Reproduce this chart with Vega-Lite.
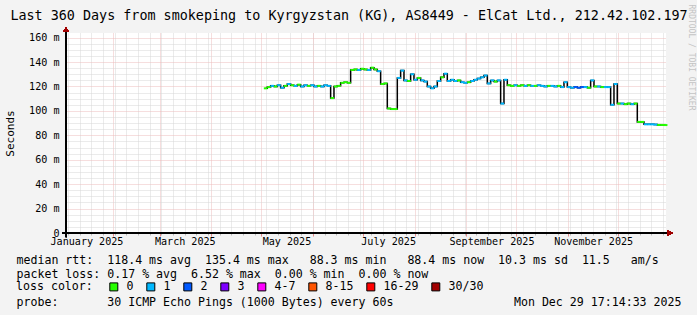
{
  "$schema": "https://vega.github.io/schema/vega-lite/v6.json",
  "width": 600,
  "height": 200,
  "autosize": {"type": "none"},
  "padding": {"left": 66, "top": 33, "right": 31, "bottom": 82},
  "background": "#f3f3f3",
  "config": {"view": {"fill": "white", "stroke": null}, "font": "DejaVu Sans Mono"},
  "data": {"values": [
    {"date": "2025-05-03T12:00", "rtt": 118.5, "loss": "0"},
    {"date": "2025-05-05T12:00", "rtt": 119.5, "loss": "0"},
    {"date": "2025-05-07T12:00", "rtt": 120.5, "loss": "1"},
    {"date": "2025-05-09T12:00", "rtt": 120, "loss": "0"},
    {"date": "2025-05-11T12:00", "rtt": 121, "loss": "1"},
    {"date": "2025-05-13T12:00", "rtt": 119, "loss": "1"},
    {"date": "2025-05-15T12:00", "rtt": 120.5, "loss": "0"},
    {"date": "2025-05-17T12:00", "rtt": 122, "loss": "1"},
    {"date": "2025-05-19T12:00", "rtt": 121, "loss": "0"},
    {"date": "2025-05-21T12:00", "rtt": 120.5, "loss": "1"},
    {"date": "2025-05-23T12:00", "rtt": 121.5, "loss": "0"},
    {"date": "2025-05-25T12:00", "rtt": 120, "loss": "1"},
    {"date": "2025-05-27T12:00", "rtt": 121, "loss": "1"},
    {"date": "2025-05-29T12:00", "rtt": 120.5, "loss": "0"},
    {"date": "2025-05-31T12:00", "rtt": 121, "loss": "1"},
    {"date": "2025-06-02T12:00", "rtt": 120, "loss": "1"},
    {"date": "2025-06-04T12:00", "rtt": 120.5, "loss": "0"},
    {"date": "2025-06-06T12:00", "rtt": 120, "loss": "1"},
    {"date": "2025-06-08T12:00", "rtt": 121, "loss": "1"},
    {"date": "2025-06-10T12:00", "rtt": 120.5, "loss": "1"},
    {"date": "2025-06-12T12:00", "rtt": 110.5, "loss": "0"},
    {"date": "2025-06-14T12:00", "rtt": 120, "loss": "0"},
    {"date": "2025-06-16T12:00", "rtt": 120.5, "loss": "0"},
    {"date": "2025-06-18T12:00", "rtt": 123, "loss": "0"},
    {"date": "2025-06-20T12:00", "rtt": 123.5, "loss": "0"},
    {"date": "2025-06-22T12:00", "rtt": 123, "loss": "0"},
    {"date": "2025-06-24T12:00", "rtt": 133.5, "loss": "0"},
    {"date": "2025-06-26T12:00", "rtt": 134, "loss": "0"},
    {"date": "2025-06-28T12:00", "rtt": 133.5, "loss": "1"},
    {"date": "2025-06-30T12:00", "rtt": 134.5, "loss": "0"},
    {"date": "2025-07-02T12:00", "rtt": 134, "loss": "0"},
    {"date": "2025-07-04T12:00", "rtt": 133.5, "loss": "1"},
    {"date": "2025-07-06T12:00", "rtt": 135.4, "loss": "0"},
    {"date": "2025-07-08T12:00", "rtt": 134, "loss": "0"},
    {"date": "2025-07-10T12:00", "rtt": 132.5, "loss": "1"},
    {"date": "2025-07-12T12:00", "rtt": 122, "loss": "0"},
    {"date": "2025-07-14T12:00", "rtt": 122.5, "loss": "0"},
    {"date": "2025-07-16T12:00", "rtt": 102, "loss": "0"},
    {"date": "2025-07-18T12:00", "rtt": 101.5, "loss": "0"},
    {"date": "2025-07-20T12:00", "rtt": 101.5, "loss": "0"},
    {"date": "2025-07-22T12:00", "rtt": 127, "loss": "1"},
    {"date": "2025-07-24T12:00", "rtt": 133, "loss": "1"},
    {"date": "2025-07-26T12:00", "rtt": 125, "loss": "1"},
    {"date": "2025-07-28T12:00", "rtt": 124.5, "loss": "0"},
    {"date": "2025-07-30T12:00", "rtt": 130, "loss": "1"},
    {"date": "2025-08-01T12:00", "rtt": 125.5, "loss": "1"},
    {"date": "2025-08-03T12:00", "rtt": 127, "loss": "0"},
    {"date": "2025-08-05T12:00", "rtt": 125, "loss": "1"},
    {"date": "2025-08-07T12:00", "rtt": 124, "loss": "1"},
    {"date": "2025-08-09T12:00", "rtt": 120, "loss": "1"},
    {"date": "2025-08-11T12:00", "rtt": 118.5, "loss": "1"},
    {"date": "2025-08-13T12:00", "rtt": 120, "loss": "1"},
    {"date": "2025-08-15T12:00", "rtt": 124.5, "loss": "1"},
    {"date": "2025-08-17T12:00", "rtt": 127.5, "loss": "0"},
    {"date": "2025-08-19T12:00", "rtt": 130.5, "loss": "1"},
    {"date": "2025-08-21T12:00", "rtt": 124.5, "loss": "1"},
    {"date": "2025-08-23T12:00", "rtt": 125.5, "loss": "1"},
    {"date": "2025-08-25T12:00", "rtt": 124.5, "loss": "1"},
    {"date": "2025-08-27T12:00", "rtt": 125, "loss": "0"},
    {"date": "2025-08-29T12:00", "rtt": 123.5, "loss": "1"},
    {"date": "2025-08-31T12:00", "rtt": 123, "loss": "1"},
    {"date": "2025-09-02T12:00", "rtt": 123.5, "loss": "0"},
    {"date": "2025-09-04T12:00", "rtt": 124.5, "loss": "1"},
    {"date": "2025-09-06T12:00", "rtt": 125.5, "loss": "1"},
    {"date": "2025-09-08T12:00", "rtt": 126.5, "loss": "1"},
    {"date": "2025-09-10T12:00", "rtt": 127.5, "loss": "1"},
    {"date": "2025-09-12T12:00", "rtt": 129, "loss": "1"},
    {"date": "2025-09-14T12:00", "rtt": 122.5, "loss": "1"},
    {"date": "2025-09-16T12:00", "rtt": 125, "loss": "1"},
    {"date": "2025-09-18T12:00", "rtt": 124, "loss": "0"},
    {"date": "2025-09-20T12:00", "rtt": 125, "loss": "1"},
    {"date": "2025-09-22T12:00", "rtt": 106, "loss": "1"},
    {"date": "2025-09-24T12:00", "rtt": 125.5, "loss": "1"},
    {"date": "2025-09-26T12:00", "rtt": 121, "loss": "0"},
    {"date": "2025-09-28T12:00", "rtt": 120.5, "loss": "0"},
    {"date": "2025-09-30T12:00", "rtt": 121, "loss": "1"},
    {"date": "2025-10-02T12:00", "rtt": 120.5, "loss": "0"},
    {"date": "2025-10-04T12:00", "rtt": 121, "loss": "0"},
    {"date": "2025-10-06T12:00", "rtt": 120.5, "loss": "1"},
    {"date": "2025-10-08T12:00", "rtt": 121, "loss": "0"},
    {"date": "2025-10-10T12:00", "rtt": 120.5, "loss": "1"},
    {"date": "2025-10-12T12:00", "rtt": 120.5, "loss": "0"},
    {"date": "2025-10-14T12:00", "rtt": 121, "loss": "1"},
    {"date": "2025-10-16T12:00", "rtt": 120.5, "loss": "1"},
    {"date": "2025-10-18T12:00", "rtt": 120, "loss": "1"},
    {"date": "2025-10-20T12:00", "rtt": 120.5, "loss": "0"},
    {"date": "2025-10-22T12:00", "rtt": 120.5, "loss": "1"},
    {"date": "2025-10-24T12:00", "rtt": 120, "loss": "1"},
    {"date": "2025-10-26T12:00", "rtt": 120.5, "loss": "0"},
    {"date": "2025-10-28T12:00", "rtt": 119.5, "loss": "1"},
    {"date": "2025-10-30T12:00", "rtt": 123.5, "loss": "1"},
    {"date": "2025-11-01T12:00", "rtt": 119.5, "loss": "1"},
    {"date": "2025-11-03T12:00", "rtt": 119, "loss": "1"},
    {"date": "2025-11-05T12:00", "rtt": 119.5, "loss": "2"},
    {"date": "2025-11-07T12:00", "rtt": 119, "loss": "2"},
    {"date": "2025-11-09T12:00", "rtt": 119.5, "loss": "2"},
    {"date": "2025-11-11T12:00", "rtt": 119.5, "loss": "1"},
    {"date": "2025-11-13T12:00", "rtt": 119, "loss": "0"},
    {"date": "2025-11-15T12:00", "rtt": 125, "loss": "1"},
    {"date": "2025-11-17T12:00", "rtt": 120, "loss": "0"},
    {"date": "2025-11-19T12:00", "rtt": 120, "loss": "1"},
    {"date": "2025-11-21T12:00", "rtt": 119.5, "loss": "0"},
    {"date": "2025-11-23T12:00", "rtt": 119.5, "loss": "1"},
    {"date": "2025-11-25T12:00", "rtt": 119.5, "loss": "1"},
    {"date": "2025-11-27T12:00", "rtt": 105, "loss": "1"},
    {"date": "2025-11-29T12:00", "rtt": 122, "loss": "1"},
    {"date": "2025-12-01T12:00", "rtt": 106, "loss": "0"},
    {"date": "2025-12-03T12:00", "rtt": 106, "loss": "1"},
    {"date": "2025-12-05T12:00", "rtt": 105.5, "loss": "0"},
    {"date": "2025-12-07T12:00", "rtt": 106, "loss": "0"},
    {"date": "2025-12-09T12:00", "rtt": 105.5, "loss": "1"},
    {"date": "2025-12-11T12:00", "rtt": 106, "loss": "0"},
    {"date": "2025-12-13T12:00", "rtt": 91, "loss": "0"},
    {"date": "2025-12-15T12:00", "rtt": 91, "loss": "0"},
    {"date": "2025-12-17T12:00", "rtt": 89, "loss": "1"},
    {"date": "2025-12-19T12:00", "rtt": 89, "loss": "1"},
    {"date": "2025-12-21T12:00", "rtt": 89, "loss": "1"},
    {"date": "2025-12-23T12:00", "rtt": 88.8, "loss": "1"},
    {"date": "2025-12-25T12:00", "rtt": 88.5, "loss": "0"},
    {"date": "2025-12-27T12:00", "rtt": 88.5, "loss": "0"},
    {"date": "2025-12-29T12:00", "rtt": 88.4, "loss": "0"}
  ]},
  "layer": [
    {
      "mark": {"type": "line", "interpolate": "step", "color": "#000000", "strokeWidth": 1.5},
      "encoding": {
        "x": {"field": "date", "type": "temporal",
          "scale": {"domain": [{"year": 2025, "month": 1, "date": 3, "hours": 17, "minutes": 14, "seconds": 33}, {"year": 2025, "month": 12, "date": 29, "hours": 17, "minutes": 14, "seconds": 33}], "nice": false},
          "axis": {"orient": "bottom", "tickCount": {"interval": "week", "step": 1}, "grid": true, "gridColor": "#d6d6d6", "gridDash": [1, 1], "labels": false, "ticks": true, "tickSize": 2, "tickColor": "#b8b8b8", "domain": false,
            "title": "Mon Dec 29 17:14:33 2025", "titleX": 615, "titleY": 72, "titleAlign": "right", "titleBaseline": "alphabetic", "titleFont": "DejaVu Sans Mono", "titleFontSize": 11.6, "titleFontWeight": "normal", "titleColor": "#000000"}},
        "y": {"field": "rtt", "type": "quantitative",
          "scale": {"domain": [0, 163.8], "nice": false, "zero": false},
          "axis": {"orient": "left", "values": [5, 10, 15, 25, 30, 35, 45, 50, 55, 65, 70, 75, 85, 90, 95, 105, 110, 115, 125, 130, 135, 145, 150, 155], "grid": true, "gridColor": "#d6d6d6", "gridDash": [1, 1], "labels": false, "ticks": false, "domain": false, "title": null}}
      }
    },
    {
      "mark": {"type": "tick", "orient": "horizontal", "size": 3.6, "thickness": 2, "opacity": 1},
      "encoding": {
        "x": {"field": "date", "type": "temporal",
          "scale": {"domain": [{"year": 2025, "month": 1, "date": 3, "hours": 17, "minutes": 14, "seconds": 33}, {"year": 2025, "month": 12, "date": 29, "hours": 17, "minutes": 14, "seconds": 33}], "nice": false},
          "axis": {"orient": "bottom", "tickCount": {"interval": "month", "step": 1}, "grid": true, "gridColor": "#ecbcbc", "gridDash": [1, 1], "labels": false, "ticks": true, "tickSize": 3, "tickColor": "#e08a8a", "domain": false,
            "title": ["median rtt:\u00a0\u00a0118.4\u00a0ms\u00a0avg\u00a0\u00a0135.4\u00a0ms\u00a0max\u00a0\u00a0\u00a088.3\u00a0ms\u00a0min\u00a0\u00a0\u00a088.4\u00a0ms\u00a0now\u00a0\u00a010.3\u00a0ms\u00a0sd\u00a0\u00a011.5\u00a0\u00a0\u00a0am/s", "packet\u00a0loss:\u00a00.17\u00a0%\u00a0avg\u00a0\u00a06.52\u00a0%\u00a0max\u00a0\u00a00.00\u00a0%\u00a0min\u00a0\u00a00.00\u00a0%\u00a0now"],
            "titleX": -50, "titleY": 30, "titleAlign": "left", "titleBaseline": "alphabetic", "titleLineHeight": 14, "titleFont": "DejaVu Sans Mono", "titleFontSize": 11.6, "titleFontWeight": "normal", "titleColor": "#000000"}},
        "y": {"field": "rtt", "type": "quantitative",
          "scale": {"domain": [0, 163.8], "nice": false, "zero": false},
          "axis": {"orient": "left", "values": [0, 20, 40, 60, 80, 100, 120, 140, 160], "grid": true, "gridColor": "#ecbcbc", "gridDash": [1, 1],
            "labelExpr": "datum.value == 0 ? '0' : format(datum.value, 'd') + ' m'",
            "labelPadding": 7,
            "encode": {"labels": {"update": {"dx": {"signal": "datum.value == 0 ? -13 : 0"}}}},
            "labelFont": "DejaVu Sans Mono", "labelFontSize": 10.1, "labelColor": "#000000", "ticks": false, "domain": false,
            "title": "Seconds", "titleX": -56, "titleY": 100, "titleAngle": 270, "titleAlign": "center", "titleBaseline": "middle", "titleFont": "DejaVu Sans Mono", "titleFontSize": 11, "titleFontWeight": "normal", "titleColor": "#000000"}},
        "color": {"field": "loss", "type": "nominal",
          "scale": {"domain": ["0", "1", "2", "3", "4-7", "8-15", "16-29", "30/30"], "range": ["#26ff00", "#00b8ff", "#0059ff", "#7e00ff", "#ff00ff", "#ff5500", "#ff0000", "#a10000"]},
          "legend": {"orient": "none", "legendX": -50, "legendY": 248, "direction": "horizontal", "columns": 8, "title": "loss color:", "titleOrient": "left", "titleAnchor": "middle", "titleBaseline": "middle", "titleFont": "DejaVu Sans Mono", "titleFontSize": 11.6, "titleFontWeight": "normal", "titleColor": "#000000", "titlePadding": 15,
            "labelFont": "DejaVu Sans Mono", "labelFontSize": 11.6, "labelColor": "#000000", "labelOffset": 7, "symbolType": "square", "symbolSize": 64, "symbolStrokeColor": "#000000", "symbolStrokeWidth": 1, "symbolOpacity": 1, "columnPadding": 10, "padding": 0}}
      }
    },
    {
      "mark": {"type": "point", "opacity": 0},
      "encoding": {
        "x": {"field": "date", "type": "temporal",
          "scale": {"domain": [{"year": 2025, "month": 1, "date": 3, "hours": 17, "minutes": 14, "seconds": 33}, {"year": 2025, "month": 12, "date": 29, "hours": 17, "minutes": 14, "seconds": 33}], "nice": false},
          "axis": {"orient": "bottom", "values": [{"year": 2025, "month": 1, "date": 16}, {"year": 2025, "month": 3, "date": 16}, {"year": 2025, "month": 5, "date": 16}, {"year": 2025, "month": 7, "date": 16}, {"year": 2025, "month": 9, "date": 16}, {"year": 2025, "month": 11, "date": 16}],
            "format": "%B %Y", "labelFont": "DejaVu Sans Mono", "labelFontSize": 10.1, "labelColor": "#000000", "labelPadding": 3, "labelFlush": false, "labelOverlap": false, "ticks": false, "grid": false, "domain": false,
            "title": "probe:\u00a0\u00a0\u00a0\u00a0\u00a0\u00a0\u00a030\u00a0ICMP\u00a0Echo\u00a0Pings\u00a0(1000\u00a0Bytes)\u00a0every\u00a060s", "titleX": -50, "titleY": 72, "titleAlign": "left", "titleBaseline": "alphabetic", "titleFont": "DejaVu Sans Mono", "titleFontSize": 11.6, "titleFontWeight": "normal", "titleColor": "#000000"}},
        "y": {"field": "rtt", "type": "quantitative",
          "scale": {"domain": [0, 163.8], "nice": false, "zero": false},
          "axis": {"orient": "right", "labels": false, "ticks": false, "grid": false, "domain": false,
            "title": "RRDTOOL / TOBI OETIKER", "titleX": 24, "titleY": 24, "titleAngle": 90, "titleAlign": "center", "titleBaseline": "middle", "titleFont": "DejaVu Sans Mono", "titleFontSize": 8, "titleFontWeight": "normal", "titleColor": "#c4c4c4"}}
      }
    },
    {
      "mark": {"type": "point", "opacity": 0},
      "encoding": {
        "x": {"field": "date", "type": "temporal",
          "scale": {"domain": [{"year": 2025, "month": 1, "date": 3, "hours": 17, "minutes": 14, "seconds": 33}, {"year": 2025, "month": 12, "date": 29, "hours": 17, "minutes": 14, "seconds": 33}], "nice": false},
          "axis": {"orient": "top", "labels": false, "ticks": false, "grid": false, "domain": false,
            "title": "Last 360 Days from smokeping to Kyrgyzstan (KG), AS8449 - ElCat Ltd., 212.42.102.197", "titleX": 282.5, "titleY": -14, "titleAlign": "center", "titleBaseline": "alphabetic", "titleFont": "DejaVu Sans Mono", "titleFontSize": 13.4, "titleFontWeight": "normal", "titleColor": "#000000"}},
        "y": {"field": "rtt", "type": "quantitative", "scale": {"domain": [0, 163.8], "nice": false, "zero": false}, "axis": null}
      }
    },
    {
      "mark": {"type": "rule", "color": "#000000", "strokeWidth": 1},
      "encoding": {
        "x": {"datum": {"year": 2025, "month": 1, "date": 1, "hours": 8}, "type": "temporal", "scale": {"domain": [{"year": 2025, "month": 1, "date": 3, "hours": 17, "minutes": 14, "seconds": 33}, {"year": 2025, "month": 12, "date": 29, "hours": 17, "minutes": 14, "seconds": 33}], "nice": false}, "axis": null},
        "x2": {"datum": {"year": 2026, "month": 1, "date": 1, "hours": 2}},
        "y": {"datum": 0, "type": "quantitative", "scale": {"domain": [0, 163.8], "nice": false, "zero": false}, "axis": null}
      }
    },
    {
      "mark": {"type": "rule", "color": "#000000", "strokeWidth": 1},
      "encoding": {
        "x": {"datum": {"year": 2025, "month": 1, "date": 3, "hours": 17, "minutes": 14, "seconds": 33}, "type": "temporal", "scale": {"domain": [{"year": 2025, "month": 1, "date": 3, "hours": 17, "minutes": 14, "seconds": 33}, {"year": 2025, "month": 12, "date": 29, "hours": 17, "minutes": 14, "seconds": 33}], "nice": false}, "axis": null},
        "y": {"datum": -3.3, "type": "quantitative", "scale": {"domain": [0, 163.8], "nice": false, "zero": false}, "axis": null},
        "y2": {"datum": 166}
      }
    },
    {
      "mark": {"type": "point", "shape": "triangle-right", "filled": true, "size": 30, "color": "#a00000", "opacity": 1},
      "encoding": {
        "x": {"datum": {"year": 2026, "month": 1, "date": 1, "hours": 3}, "type": "temporal", "scale": {"domain": [{"year": 2025, "month": 1, "date": 3, "hours": 17, "minutes": 14, "seconds": 33}, {"year": 2025, "month": 12, "date": 29, "hours": 17, "minutes": 14, "seconds": 33}], "nice": false}, "axis": null},
        "y": {"datum": 0, "type": "quantitative", "scale": {"domain": [0, 163.8], "nice": false, "zero": false}, "axis": null}
      }
    },
    {
      "mark": {"type": "point", "shape": "triangle-up", "filled": true, "size": 30, "color": "#a00000", "opacity": 1},
      "encoding": {
        "x": {"datum": {"year": 2025, "month": 1, "date": 3, "hours": 17, "minutes": 14, "seconds": 33}, "type": "temporal", "scale": {"domain": [{"year": 2025, "month": 1, "date": 3, "hours": 17, "minutes": 14, "seconds": 33}, {"year": 2025, "month": 12, "date": 29, "hours": 17, "minutes": 14, "seconds": 33}], "nice": false}, "axis": null},
        "y": {"datum": 166.5, "type": "quantitative", "scale": {"domain": [0, 163.8], "nice": false, "zero": false}, "axis": null}
      }
    }
  ],
  "resolve": {"axis": {"x": "independent", "y": "independent"}}
}
